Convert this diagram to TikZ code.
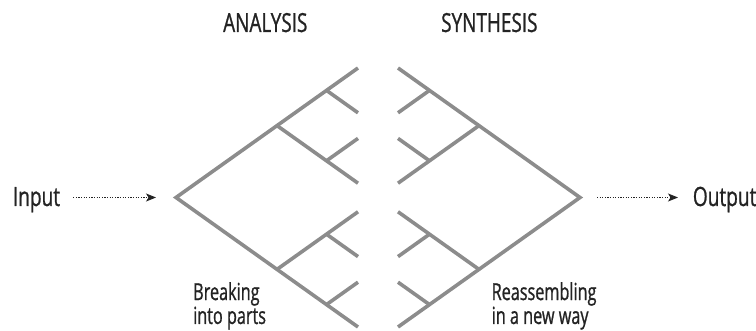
\documentclass[tikz,border=0pt]{standalone}
\usepackage{fontspec}
\newfontfamily\cfont[FakeStretch=0.72,FakeBold=0.9]{Open Sans}
\newfontfamily\nfont[FakeStretch=0.69,FakeBold=0.9]{Open Sans}
\usetikzlibrary{arrows.meta}
\definecolor{treegray}{RGB}{140,140,140}
\definecolor{inkdark}{RGB}{35,35,35}
\tikzset{
  treeline/.style={draw=treegray, line width=3.6pt, line join=miter},
  flowarrow/.style={draw=inkdark, line width=0.9pt, dash pattern=on 1.1pt off 1.5pt,
    -{Stealth[length=10pt,width=8pt,inset=2.5pt]}},
  bigtext/.style={font=\cfont\fontsize{26.5}{30}\selectfont, text=inkdark, inner sep=0pt},
  titletext/.style={font=\cfont\fontsize{26.3}{29}\selectfont, text=inkdark, inner sep=0pt},
  notetext/.style={font=\nfont\fontsize{23.5}{20}\selectfont, text=inkdark, inner sep=0pt, align=left},
}
\newcommand\halftree{%
  \coordinate (T) at (-202,0);
  \coordinate (E1) at (-20,129.5);
  \coordinate (E1b) at (-20,-129.5);
  \coordinate (B) at (-101,71.9);
  \coordinate (Bb) at (-101,-71.9);
  \coordinate (E4) at (-20,14.3);
  \coordinate (E4b) at (-20,-14.3);
  \coordinate (S1) at (-51.5,107.1);
  \coordinate (S1b) at (-51.5,-107.1);
  \coordinate (E2) at (-20,84.7);
  \coordinate (E2b) at (-20,-84.7);
  \coordinate (S2) at (-51.5,36.7);
  \coordinate (S2b) at (-51.5,-36.7);
  \coordinate (E3) at (-20,59.1);
  \coordinate (E3b) at (-20,-59.1);
  \draw[treeline] (E1) -- (T) -- (E1b);
  \draw[treeline] (B) -- (E4);
  \draw[treeline] (S1) -- (E2);
  \draw[treeline] (S2) -- (E3);
  \draw[treeline] (Bb) -- (E4b);
  \draw[treeline] (S1b) -- (E2b);
  \draw[treeline] (S2b) -- (E3b);
}
\begin{document}
\begin{tikzpicture}[x=1pt,y=-1pt]
\useasboundingbox (0,0) rectangle (756,331);
\begin{scope}[shift={(378,197.5)}, yscale=-1]
  \halftree
\end{scope}
\begin{scope}[shift={(378,197.5)}, yscale=-1, xscale=-1]
  \halftree
\end{scope}
\node[bigtext, anchor=base west] (input) at (12.7,206) {Input};
\node[bigtext, anchor=base west] (output) at (692.7,206) {Output};
\node[titletext, anchor=base west] (analysis) at (223,32) {ANALYSIS};
\node[titletext, anchor=base west] (synthesis) at (441,32) {SYNTHESIS};
\node[notetext, anchor=north west] (breaking) at (193,282) {Breaking\\into parts};
\node[notetext, anchor=north west] (reassembling) at (491.5,282) {Reassembling\\in a new way};
\coordinate (inarrowend) at (156,197.5);
\coordinate (outarrowend) at (678,197.5);
\draw[flowarrow] ([xshift=13pt]input.east |- inarrowend) -- (inarrowend);
\draw[flowarrow] (597,197.5) -- (outarrowend);
\end{tikzpicture}
\end{document}
